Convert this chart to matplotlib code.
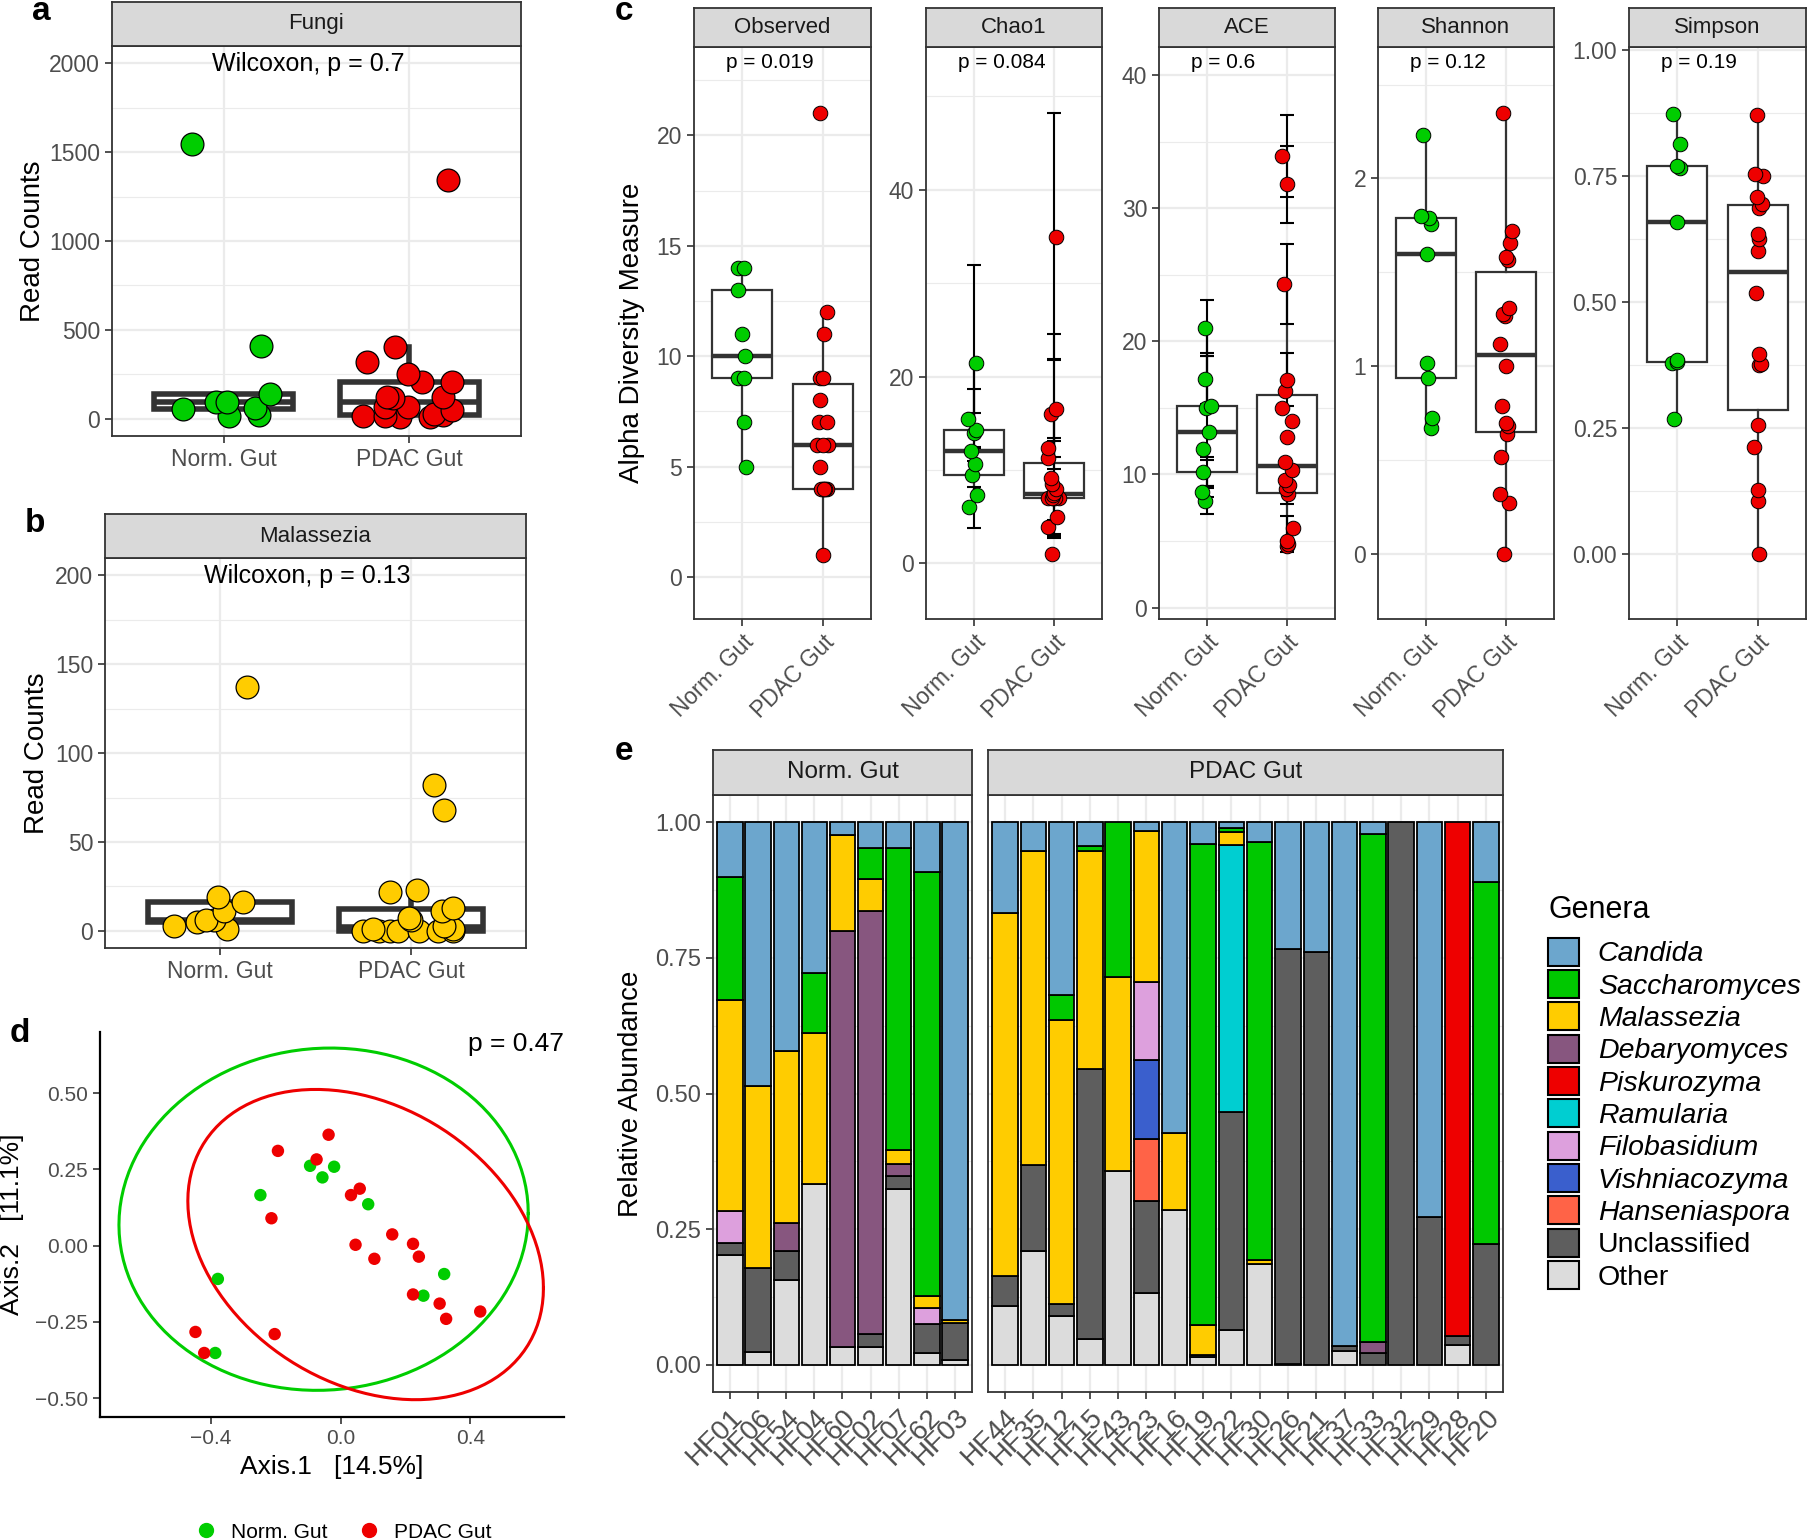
import numpy as np
import matplotlib
matplotlib.use("Agg")
import matplotlib.pyplot as plt
from matplotlib.patches import Patch
from matplotlib.lines import Line2D

plt.rcParams['font.family'] = ['Liberation Sans', 'DejaVu Sans']

# ---------------- data ----------------
groups = ['Norm. Gut', 'PDAC Gut']
GREEN, RED, GOLD = '#00CD00', '#EE0000', '#FFCC00'

# a: total fungal read counts (value, horizontal jitter)
fungi_norm = [19, 22, 55, 60, 94, 94, 139, 412, 1545]
fungi_norm_dx = [0.03, 0.19, -0.22, 0.17, -0.04, 0.02, 0.25, 0.2, -0.17]
fungi_pdac = [13, 13, 17, 17, 22, 26, 51, 69, 69, 116, 125, 125, 206, 210, 251, 318, 406, 1341]
fungi_pdac_dx = [-0.05, 0.11, -0.25, -0.13, 0.18, 0.13, 0.23, -0.13, -0.01, -0.09, -0.12, 0.18,
                 0.23, 0.07, -0.01, -0.23, -0.08, 0.21]

# b: Malassezia read counts
mala_norm = [1, 3, 5, 6, 6, 11, 16, 19, 137]
mala_norm_dx = [0.04, -0.24, -0.12, -0.03, -0.07, 0.02, 0.12, -0.01, 0.14]
mala_pdac = [0, 0, 0, 0, 0, 0, 0, 1, 1, 3, 6, 7, 11, 13, 22, 23, 68, 82]
mala_pdac_dx = [-0.25, -0.17, -0.11, -0.07, 0.04, 0.14, 0.22, -0.2, 0.22, 0.17, 0.0, -0.01,
                0.16, 0.22, -0.11, 0.03, 0.17, 0.12]

# c: alpha diversity
observed_norm = [5, 7, 9, 9, 10, 11, 13, 14, 14]
observed_norm_dx = [0.05, 0.02, -0.05, 0.02, 0.03, 0.0, -0.05, -0.05, 0.02]
observed_pdac = [1, 4, 4, 4, 4, 4, 5, 6, 6, 6, 7, 7, 8, 9, 9, 11, 12, 21]
observed_pdac_dx = [0.0, 0.0, 0.05, -0.02, 0.03, 0.01, -0.04, -0.07, 0.06, 0.0, -0.05, 0.05,
                    -0.03, -0.03, 0.0, 0.02, 0.05, -0.03]

chao1_norm = [6.0, 7.3, 9.5, 10.6, 12.0, 14.0, 14.3, 15.5, 21.5]
chao1_norm_dx = [-0.06, 0.04, -0.02, 0.01, -0.04, 0.0, 0.02, -0.07, 0.03]
chao1_norm_se = [2.2, 0, 0, 0, 0, 0, 1.8, 3.15, 10.5]
chao1_pdac = [1.0, 3.9, 5.0, 7.0, 7.0, 7.0, 7.0, 7.0, 7.3, 7.5, 8.0, 8.5, 9.2, 11.3, 12.4, 16.0, 16.5, 35.0]
chao1_pdac_dx = [-0.03, -0.07, 0.04, 0.06, -0.07, -0.01, 0.01, -0.03, -0.01, 0.0, 0.03, -0.03,
                 -0.04, -0.07, -0.07, -0.04, 0.03, 0.03]
chao1_pdac_se = [0, 0.7, 2.3, 0, 0, 0, 0, 0, 0, 0, 5.1, 0, 0, 0, 1.0, 5.9, 8.1, 13.2]

ace_norm = [8.0, 8.7, 10.2, 11.9, 13.2, 15.0, 15.1, 17.2, 21.0]
ace_norm_dx = [-0.03, -0.06, -0.05, -0.05, 0.02, -0.01, 0.05, -0.03, -0.02]
ace_norm_se = [1.0, 0.4, 1.1, 0, 0, 3.9, 0, 1.9, 2.1]
ace_pdac = [4.6, 4.8, 5.0, 6.0, 8.5, 8.9, 9.2, 9.6, 10.3, 10.9, 12.8, 14.0, 15.0, 16.3, 17.1, 24.3, 31.8, 33.9]
ace_pdac_dx = [0.0, 0.01, 0.0, 0.07, 0.01, -0.01, 0.02, -0.02, 0.06, -0.03, 0.0, 0.06,
               -0.06, -0.02, 0.0, -0.04, 0.0, -0.06]
ace_pdac_se = [0.4, 0.3, 0, 0.9, 0.7, 0, 0, 0, 0, 0, 0, 0, 0, 0, 2.0, 3.0, 2.9, 3.1]

shannon_norm = [0.67, 0.725, 0.94, 1.02, 1.60, 1.76, 1.79, 1.80, 2.23]
shannon_norm_dx = [0.06, 0.07, 0.03, 0.01, 0.01, 0.06, 0.04, -0.06, -0.04]
shannon_pdac = [0.0, 0.27, 0.32, 0.52, 0.64, 0.68, 0.70, 0.79, 1.00, 1.12, 1.27, 1.28, 1.31,
                1.566, 1.584, 1.655, 1.72, 2.348]
shannon_pdac_dx = [-0.02, 0.04, -0.07, -0.06, 0.01, 0.03, 0.0, -0.05, 0.0, -0.07, -0.01, -0.04,
                   0.04, 0.02, 0.0, 0.05, 0.07, -0.04]

simpson_norm = [0.269, 0.380, 0.382, 0.385, 0.659, 0.767, 0.770, 0.813, 0.874]
simpson_norm_dx = [-0.04, -0.06, 0.0, 0.0, 0.0, 0.03, 0.0, 0.03, -0.05]
simpson_pdac = [0.0, 0.105, 0.127, 0.213, 0.257, 0.376, 0.378, 0.398, 0.519, 0.602, 0.626, 0.636,
                0.686, 0.695, 0.708, 0.750, 0.755, 0.872]
simpson_pdac_dx = [0.01, 0.0, 0.0, -0.05, 0.0, 0.01, 0.04, 0.01, -0.02, 0.0, 0.01, 0.0, 0.02,
                   0.05, -0.01, 0.06, -0.04, -0.01]

# d: PCoA coordinates
norm_ax1 = [-0.094, -0.02, -0.056, -0.247, 0.085, -0.378, 0.319, 0.255, -0.386]
norm_ax2 = [0.262, 0.259, 0.224, 0.166, 0.136, -0.109, -0.093, -0.164, -0.352]
pdac_ax1 = [-0.037, -0.193, -0.074, 0.059, 0.032, -0.213, 0.159, 0.046, 0.223, 0.104, 0.241,
            0.223, 0.305, 0.325, 0.43, -0.447, -0.203, -0.42]
pdac_ax2 = [0.364, 0.311, 0.283, 0.187, 0.166, 0.09, 0.037, 0.003, 0.006, -0.043, -0.036,
            -0.16, -0.19, -0.24, -0.216, -0.283, -0.29, -0.352]

# e: relative abundance per sample
norm_samples = ['HF01', 'HF06', 'HF54', 'HF04', 'HF60', 'HF02', 'HF07', 'HF62', 'HF03']
pdac_samples = ['HF44', 'HF35', 'HF12', 'HF15', 'HF43', 'HF23', 'HF16', 'HF19', 'HF22',
                'HF30', 'HF26', 'HF21', 'HF37', 'HF33', 'HF32', 'HF29', 'HF28', 'HF20']
genera = ['Candida', 'Saccharomyces', 'Malassezia', 'Debaryomyces', 'Piskurozyma', 'Ramularia',
          'Filobasidium', 'Vishniacozyma', 'Hanseniaspora', 'Unclassified', 'Other']
genus_colors = ['#6CA6CD', '#00C800', '#FFCC00', '#87567F', '#EE0000', '#00CED1',
                '#DDA0DD', '#3A5FCD', '#FF6347', '#5E5E5E', '#DCDCDC']
candida = [.102, .487, .422, .278, .023, .047, .048, .091, .917,
           .167, .053, .318, .044, 0, .016, .573, .040, .010, .036, .233, .239, .966, .022, 0, .728, 0, .111]
saccharomyces = [.225, 0, 0, .111, 0, .057, .557, .783, 0,
                 0, 0, .047, .010, .286, 0, 0, .887, .008, .771, 0, 0, 0, .936, 0, 0, 0, .666]
malassezia = [.389, .334, .317, .278, .177, .060, .024, .022, .005,
              .669, .579, .522, .400, .357, .279, .142, .054, .025, .008, 0, 0, 0, 0, 0, 0, 0, 0]
debaryomyces = [0, 0, .051, 0, .767, .779, .023, 0, 0,
                0, 0, 0, 0, 0, 0, 0, 0, 0, 0, 0, 0, 0, .0195, 0, 0, 0, 0]
piskurozyma = [0] * 9 + [0] * 16 + [.946, 0]
ramularia = [0] * 9 + [0] * 8 + [.492] + [0] * 9
filobasidium = [0.060, 0, 0, 0, 0, 0, 0, .029, 0] + [0] * 5 + [.143] + [0] * 12
vishniacozyma = [0] * 9 + [0] * 5 + [.146] + [0] * 12
hanseniaspora = [0] * 9 + [0] * 5 + [.114] + [0] * 12
unclassified = [.021, .156, .054, 0, 0, .024, .024, .054, .069,
                .055, .159, .023, .499, 0, .169, 0, .004, .400, 0, .765, .761, .009, .0225, 1.0, .272, .018, .223]
other = [.203, .023, .156, .333, .033, .033, .324, .021, .009,
         .109, .209, .090, .047, .357, .133, .285, .015, .065, .185, .002, 0, .025, 0, 0, 0, .036, 0]

# ---------------- figure ----------------
W, H = 1808, 1539
fig = plt.figure(figsize=(W / 100, H / 100), dpi=100)


def rect(x0, y0, x1, y1):
    return [x0 / W, 1 - y1 / H, (x1 - x0) / W, (y1 - y0) / H]


def bw(ax, tick_size):
    ax.set_facecolor('white')
    for s in ax.spines.values():
        s.set_color('#333333')
        s.set_linewidth(1.3)
    ax.grid(True, which='major', color='#EBEBEB', lw=1.6)
    ax.grid(True, which='minor', axis='y', color='#EBEBEB', lw=0.8)
    ax.set_axisbelow(True)
    ax.tick_params(colors='#333333', labelcolor='#4D4D4D', length=5, width=1.2, labelsize=tick_size)
    ax.tick_params(which='minor', length=0)


def strip(x0, y0, x1, y1, label, size):
    s = fig.add_axes(rect(x0, y0, x1, y1))
    s.set_facecolor('#D9D9D9')
    s.set_xticks([])
    s.set_yticks([])
    for sp in s.spines.values():
        sp.set_color('#333333')
        sp.set_linewidth(1.3)
    s.text(0.5, 0.5, label, ha='center', va='center', fontsize=size, color='#1A1A1A',
           transform=s.transAxes)


def boxes(ax, data, lw, mlw):
    ax.boxplot(data, positions=[1, 2], widths=0.75, showfliers=False, patch_artist=True,
               boxprops=dict(facecolor='white', edgecolor='#333333', linewidth=lw),
               medianprops=dict(color='#333333', linewidth=mlw),
               whiskerprops=dict(color='#333333', linewidth=lw),
               capprops=dict(linewidth=0), zorder=2)


def ylab(x, y, text, size=20):
    fig.text(x / W, 1 - y / H, text, rotation=90, ha='center', va='center', fontsize=size)


# ---- a & b ----
for (x0, y0, x1, y1), title, nv, ndx, pv, pdx, cn, cp, ylim, major, minor, ptxt, lab, lx in [
        ((112, 46, 521, 436), 'Fungi', fungi_norm, fungi_norm_dx, fungi_pdac, fungi_pdac_dx,
         GREEN, RED, (-96, 2096), range(0, 2001, 500), range(250, 2000, 500),
         'Wilcoxon, p = 0.7', 'a', 33),
        ((105, 558, 526, 948), 'Malassezia', mala_norm, mala_norm_dx, mala_pdac, mala_pdac_dx,
         GOLD, GOLD, (-9.6, 209.8), range(0, 201, 50), range(25, 200, 50),
         'Wilcoxon, p = 0.13', 'b', 37)]:
    ax = fig.add_axes(rect(x0, y0, x1, y1))
    bw(ax, 16.5)
    boxes(ax, [nv, pv], 4, 4)
    ax.scatter(1 + np.array(ndx), nv, s=270, c=cn, edgecolors='black', linewidths=0.9, zorder=3)
    ax.scatter(2 + np.array(pdx), pv, s=270, c=cp, edgecolors='black', linewidths=0.9, zorder=3)
    ax.set_xlim(0.4, 2.6)
    ax.set_ylim(*ylim)
    ax.set_yticks(list(major))
    ax.set_yticks(list(minor), minor=True)
    ax.set_xticks([1, 2])
    ax.set_xticklabels(groups)
    ax.text(0.48, 0.955, ptxt, transform=ax.transAxes, ha='center', va='center', fontsize=18)
    strip(x0, y0 - 44, x1, y0, title, 16)
    ylab(lx, (y0 + y1) / 2, 'Read Counts')
    fig.text((x0 - 80) / W, 1 - (y0 - 34) / H, lab, fontsize=24, fontweight='bold', va='center')

# ---- c ----
alpha_panels = [
    ('Observed', (694, 871), observed_norm, observed_norm_dx, None, observed_pdac, observed_pdac_dx,
     None, (-1.9, 24.0), [0, 5, 10, 15, 20], [2.5, 7.5, 12.5, 17.5, 22.5], None, 'p = 0.019'),
    ('Chao1', (926, 1102), chao1_norm, chao1_norm_dx, chao1_norm_se, chao1_pdac, chao1_pdac_dx,
     chao1_pdac_se, (-5.95, 55.3), [0, 20, 40], [10, 30, 50], None, 'p = 0.084'),
    ('ACE', (1159, 1335), ace_norm, ace_norm_dx, ace_norm_se, ace_pdac, ace_pdac_dx,
     ace_pdac_se, (-0.86, 42.1), [0, 10, 20, 30, 40], [5, 15, 25, 35], None, 'p = 0.6'),
    ('Shannon', (1378, 1554), shannon_norm, shannon_norm_dx, None, shannon_pdac, shannon_pdac_dx,
     None, (-0.345, 2.70), [0, 1, 2], [0.5, 1.5, 2.5], None, 'p = 0.12'),
    ('Simpson', (1629, 1806), simpson_norm, simpson_norm_dx, None, simpson_pdac, simpson_pdac_dx,
     None, (-0.1285, 1.0064), [0, 0.25, 0.5, 0.75, 1.0], [0.125, 0.375, 0.625, 0.875],
     ['0.00', '0.25', '0.50', '0.75', '1.00'], 'p = 0.19'),
]
cy0, cy1 = 47, 619
for name, (x0, x1), nv, ndx, nse, pv, pdx, pse, ylim, major, minor, tl, ptxt in alpha_panels:
    ax = fig.add_axes(rect(x0, cy0, x1, cy1))
    bw(ax, 16.5)
    boxes(ax, [nv, pv], 1.6, 3.2)
    for pos, vals, se in [(1, nv, nse), (2, pv, pse)]:
        if se is None:
            continue
        vals = np.array(vals)
        se = np.array(se)
        m = se > 0
        ax.errorbar(np.full(m.sum(), pos), vals[m], yerr=se[m], fmt='none', ecolor='black',
                    elinewidth=1.5, capsize=5, capthick=1.5, zorder=2.5)
    ax.scatter(1 + np.array(ndx), nv, s=110, c=GREEN, edgecolors='black', linewidths=0.7, zorder=3)
    ax.scatter(2 + np.array(pdx), pv, s=110, c=RED, edgecolors='black', linewidths=0.7, zorder=3)
    ax.set_xlim(0.4, 2.6)
    ax.set_ylim(*ylim)
    ax.set_yticks(major)
    if tl:
        ax.set_yticklabels(tl)
    ax.set_yticks(minor, minor=True)
    ax.set_xticks([1, 2])
    ax.set_xticklabels(groups, rotation=45, ha='right', va='top', rotation_mode='anchor')
    ax.text(0.18, 0.973, ptxt, transform=ax.transAxes, ha='left', va='center', fontsize=15)
    strip(x0, 8, x1, cy0, name, 16)
ylab(632, (cy0 + cy1) / 2, 'Alpha Diversity Measure')
fig.text(615 / W, 1 - 12 / H, 'c', fontsize=24, fontweight='bold', va='center')


# ---- d ----
def cov_trob(pts, nu=5, maxit=25, tol=0.01):
    n, p = pts.shape
    wt = np.ones(n)
    loc = pts.mean(axis=0)
    w = np.sqrt(wt)
    for _ in range(maxit):
        w0 = w
        X = pts - loc
        _, d, vt = np.linalg.svd(np.sqrt(w / w.sum())[:, None] * X, full_matrices=False)
        wX = X @ vt.T / d
        Q = (wX ** 2).sum(axis=1)
        w = wt * (nu + p) / (nu + Q)
        loc = (w[:, None] * pts).sum(axis=0) / w.sum()
        if np.all(np.abs(w - w0) < tol):
            break
    sw = np.sqrt(w)[:, None] * X
    return loc, sw.T @ sw / wt.sum()


# F(0.95; 2, n-1) quantiles for n = 9 and n = 18
f95 = {9: 4.4590, 18: 3.5915}

ax = fig.add_axes(rect(100, 1032, 564, 1417))
for s in ['top', 'right']:
    ax.spines[s].set_visible(False)
for s in ['left', 'bottom']:
    ax.spines[s].set_linewidth(1.6)
ax.tick_params(colors='#333333', labelcolor='#4D4D4D', length=5, width=1.2, labelsize=15)
t = np.linspace(0, 2 * np.pi, 121)
circle = np.column_stack([np.cos(t), np.sin(t)])
for xs, ys, col in [(norm_ax1, norm_ax2, GREEN), (pdac_ax1, pdac_ax2, RED)]:
    pts = np.column_stack([xs, ys])
    ax.scatter(xs, ys, s=80, c=col, edgecolors='none', zorder=3)
    center, cov = cov_trob(pts)
    r = np.sqrt(2 * f95[len(xs)])
    ell = center + r * (circle @ np.linalg.cholesky(cov).T)
    ax.plot(ell[:, 0], ell[:, 1], color=col, lw=2.2)
ax.set_xlim(-0.741, 0.688)
ax.set_ylim(-0.562, 0.701)
ax.set_xticks([-0.4, 0, 0.4])
ax.set_xticklabels(['\u22120.4', '0.0', '0.4'])
ax.set_yticks([-0.5, -0.25, 0, 0.25, 0.5])
ax.set_yticklabels(['\u22120.50', '\u22120.25', '0.00', '0.25', '0.50'])
ax.text(1.0, 0.968, 'p = 0.47', transform=ax.transAxes, ha='right', va='center', fontsize=19)
fig.text(332 / W, 1 - 1467 / H, 'Axis.1   [14.5%]', ha='center', va='center', fontsize=19)
ylab(12, 1224, 'Axis.2   [11.1%]', 19)
fig.text(10 / W, 1 - 1034 / H, 'd', fontsize=24, fontweight='bold', va='center')
fig.legend([Line2D([], [], ls='', marker='o', color=GREEN, markersize=10),
            Line2D([], [], ls='', marker='o', color=RED, markersize=10)], groups,
           loc='center', bbox_to_anchor=(338 / W, 1 - 1532 / H), ncol=2, frameon=False,
           fontsize=15, handletextpad=0.2, columnspacing=1.0)

# ---- e ----
layers = [other, unclassified, hanseniaspora, vishniacozyma, filobasidium, ramularia,
          piskurozyma, debaryomyces, malassezia, saccharomyces, candida]
layer_colors = genus_colors[::-1]
ey0, ey1 = 795, 1392
for (x0, x1), names, sl, title in [((713, 972), norm_samples, slice(0, 9), 'Norm. Gut'),
                                   ((988, 1503), pdac_samples, slice(9, 27), 'PDAC Gut')]:
    ax = fig.add_axes(rect(x0, ey0, x1, ey1))
    bw(ax, 17)
    n = len(names)
    xpos = np.arange(1, n + 1)
    bottom = np.zeros(n)
    for vals, col in zip(layers, layer_colors):
        v = np.array(vals[sl], dtype=float)
        m = v > 0
        ax.bar(xpos[m], v[m], bottom=bottom[m], width=0.9, color=col, edgecolor='black',
               linewidth=1.3, zorder=2)
        bottom += v
    ax.set_xlim(0.4, n + 0.6)
    ax.set_ylim(-0.05, 1.05)
    ax.set_xticks(xpos)
    ax.set_xticklabels(names, rotation=45, ha='right', va='top', rotation_mode='anchor',
                       fontsize=20)
    ax.set_yticks([0, 0.25, 0.5, 0.75, 1.0])
    ax.set_yticks([0.125, 0.375, 0.625, 0.875], minor=True)
    if title == 'Norm. Gut':
        ax.set_yticklabels(['0.00', '0.25', '0.50', '0.75', '1.00'])
    else:
        ax.tick_params(axis='y', which='both', left=False, labelleft=False)
    strip(x0, 750, x1, ey0, title, 17.5)
ylab(631, (ey0 + ey1) / 2, 'Relative Abundance')
fig.text(615 / W, 1 - 752 / H, 'e', fontsize=24, fontweight='bold', va='center')

leg = fig.legend([Patch(facecolor=c, edgecolor='black', linewidth=1.5) for c in genus_colors],
                 genera, title='Genera', loc='upper left', bbox_to_anchor=(1548 / W, 1 - 895 / H),
                 frameon=False, fontsize=20.5, title_fontsize=22, handlelength=1.1,
                 handleheight=1.15, labelspacing=0.09, handletextpad=0.65, borderaxespad=0,
                 borderpad=0, alignment='left')
leg._legend_box.sep = 9
for txt, g in zip(leg.get_texts(), genera):
    if g not in ('Unclassified', 'Other'):
        txt.set_fontstyle('italic')

fig.savefig('out.png', dpi=100)
